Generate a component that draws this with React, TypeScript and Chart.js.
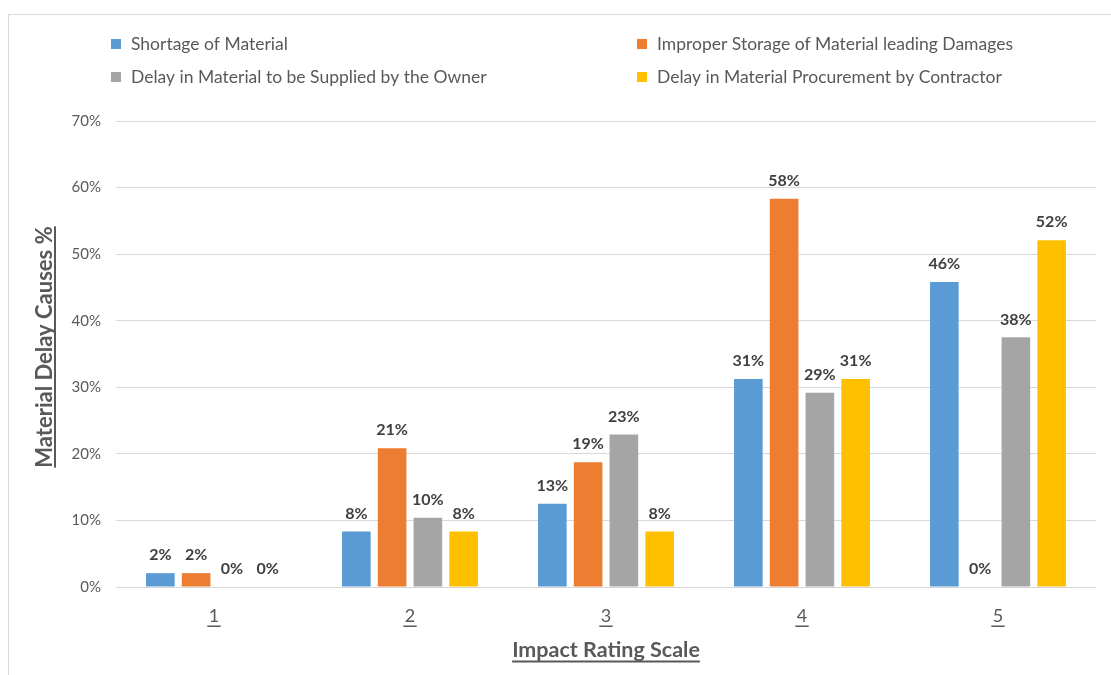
import React, { useEffect, useRef } from "react";
import { Chart, registerables } from "chart.js";

Chart.register(...registerables);

const categories = ["1", "2", "3", "4", "5"];
const seriesNames = [
  "Shortage of Material",
  "Improper Storage of Material leading Damages",
  "Delay in Material to be Supplied by the Owner",
  "Delay in Material Procurement by Contractor",
];
const shortageOfMaterial = [2.08, 8.33, 12.5, 31.25, 45.83];
const improperStorage = [2.08, 20.83, 18.75, 58.33, 0];
const ownerSupplyDelay = [0, 10.42, 22.92, 29.17, 37.5];
const contractorProcurementDelay = [0, 8.33, 8.33, 31.25, 52.08];
const yTickValues = [0, 10, 20, 30, 40, 50, 60, 70];
const xAxisTitle = "Impact Rating Scale";
const yAxisTitle = "Material Delay Causes %";

const seriesColors = ["#5B9BD5", "#ED7D31", "#A5A5A5", "#FFC000"];
const FONT = "Lato, 'Open Sans', sans-serif";
const TEXT = "#595959";

const decorPlugin = {
  id: "decor",
  afterDraw(chart: any) {
    const ctx = chart.ctx;
    const area = chart.chartArea;
    const xs = chart.scales.x;
    ctx.save();

    // data labels
    ctx.font = `bold 16px ${FONT}`;
    ctx.fillStyle = "#404040";
    ctx.textAlign = "center";
    ctx.textBaseline = "middle";
    chart.data.datasets.forEach((ds: any, di: number) => {
      const meta = chart.getDatasetMeta(di);
      meta.data.forEach((el: any, i: number) => {
        const v = ds.data[i];
        ctx.fillText(Math.round(v) + "%", el.x, el.y - 18);
      });
    });

    // x tick labels (underlined)
    ctx.font = `18px ${FONT}`;
    ctx.fillStyle = TEXT;
    ctx.textBaseline = "alphabetic";
    categories.forEach((c, i) => {
      const px = xs.getPixelForTick(i);
      ctx.fillText(c, px, area.bottom + 35);
      const w = ctx.measureText(c).width;
      ctx.fillRect(px - w / 2 - 1.5, area.bottom + 38.5, w + 3, 1.5);
    });

    // x title
    ctx.font = `bold 21.5px ${FONT}`;
    const cx = (area.left + area.right) / 2;
    ctx.fillText(xAxisTitle, cx, area.bottom + 70);
    const tw = ctx.measureText(xAxisTitle).width;
    ctx.fillRect(cx - tw / 2, area.bottom + 73.5, tw, 2);

    // y title
    ctx.font = `bold 22px ${FONT}`;
    ctx.save();
    ctx.translate(52, (area.top + area.bottom) / 2 - 7);
    ctx.rotate(-Math.PI / 2);
    ctx.fillText(yAxisTitle, 0, 0);
    const yw = ctx.measureText(yAxisTitle).width;
    ctx.fillRect(-yw / 2, 2, yw, 2);
    ctx.restore();

    // legend (two columns)
    ctx.font = `17.5px ${FONT}`;
    ctx.textAlign = "left";
    ctx.textBaseline = "middle";
    const cols = [111, 637];
    const rows = [44, 77];
    const order = [
      [0, 0],
      [1, 0],
      [0, 1],
      [1, 1],
    ];
    seriesNames.forEach((name, i) => {
      const [c, r] = order[i];
      ctx.fillStyle = seriesColors[i];
      ctx.fillRect(cols[c], rows[r] - 5, 10, 10);
      ctx.fillStyle = TEXT;
      ctx.fillText(name, cols[c] + 20, rows[r]);
    });

    ctx.restore();
  },
};

export default function App() {
  const ref = useRef<HTMLCanvasElement>(null);

  useEffect(() => {
    if (!ref.current) return;
    const seriesData = [
      shortageOfMaterial,
      improperStorage,
      ownerSupplyDelay,
      contractorProcurementDelay,
    ];
    const chart = new Chart(ref.current, {
      type: "bar",
      data: {
        labels: categories,
        datasets: seriesNames.map((name, i) => ({
          label: name,
          data: seriesData[i],
          backgroundColor: seriesColors[i],
          borderWidth: 0,
          categoryPercentage: 0.73,
          barPercentage: 0.8,
        })),
      },
      options: {
        responsive: false,
        animation: false,
        devicePixelRatio: 1,
        layout: { padding: { left: 0, right: 15, top: 121, bottom: 0 } },
        plugins: {
          legend: { display: false },
          tooltip: { enabled: false },
          title: { display: false },
        },
        scales: {
          x: {
            type: "category",
            grid: { display: false },
            border: { display: false },
            ticks: { display: false },
            afterFit: (s: any) => {
              s.height = 88;
            },
          },
          y: {
            min: 0,
            max: 70,
            afterBuildTicks: (s: any) => {
              s.ticks = yTickValues.map((v) => ({ value: v }));
            },
            ticks: {
              callback: (v: any) => v + "%",
              color: TEXT,
              font: { family: FONT, size: 15 },
              padding: 15,
            },
            grid: { color: "#D9D9D9", lineWidth: 1, drawTicks: false },
            border: { display: false },
            afterFit: (s: any) => {
              s.width = 116;
            },
          },
        },
      },
      plugins: [decorPlugin],
    });
    return () => chart.destroy();
  }, []);

  return (
    <div>
      <div
        style={{
          position: "fixed",
          left: 8,
          top: 14,
          width: 1300,
          height: 1000,
          border: "1px solid #D9D9D9",
          background: "#fff",
        }}
      />
      <canvas
        ref={ref}
        width={1111}
        height={675}
        style={{ position: "fixed", left: 0, top: 0, width: 1111, height: 675 }}
      />
    </div>
  );
}
